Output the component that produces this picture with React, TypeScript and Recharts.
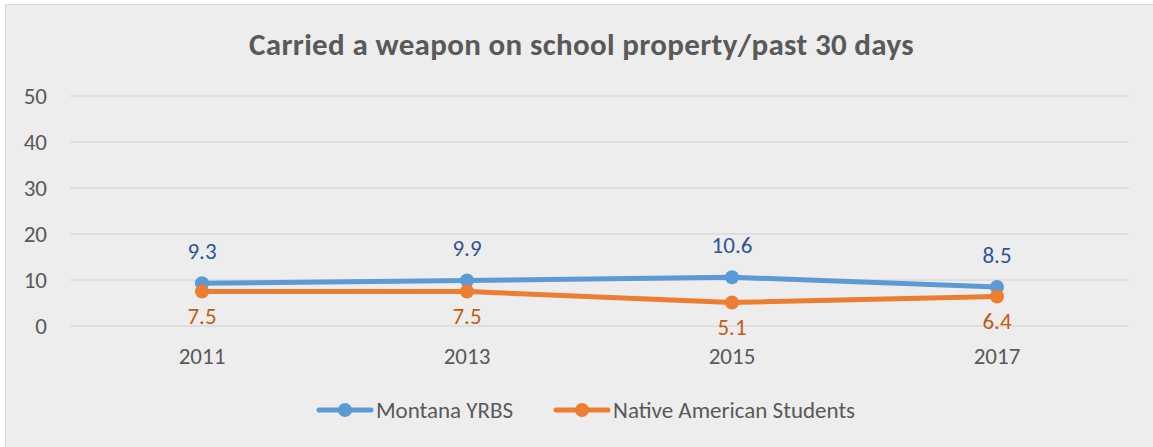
import React from 'react';
import { LineChart, Line, XAxis, YAxis, CartesianGrid, Legend, LabelList } from 'recharts';

const years = ['2011', '2013', '2015', '2017'];
const montanaYrbs = [9.3, 9.9, 10.6, 8.5];
const nativeAmerican = [7.5, 7.5, 5.1, 6.4];
const yTicks = [0, 10, 20, 30, 40, 50];

const FONT = 'Calibri, Carlito, Lato, sans-serif';
const BLUE = '#5b9bd5';
const ORANGE = '#ed7d31';

const data = years.map((y, i) => ({
  year: y,
  montana: montanaYrbs[i],
  native: nativeAmerican[i],
}));

const legendItems = [
  { name: 'Montana YRBS', color: BLUE },
  { name: 'Native American Students', color: ORANGE },
];

function LegendContent() {
  return (
    <div
      style={{
        display: 'flex',
        justifyContent: 'center',
        alignItems: 'center',
        height: 24,
        paddingLeft: 18,
        fontFamily: FONT,
        fontSize: 23,
        color: '#595959',
      }}
    >
      {legendItems.map((it, i) => (
        <div key={it.name} style={{ display: 'flex', alignItems: 'center', marginLeft: i ? 40 : 0 }}>
          <svg width={58} height={16} style={{ marginRight: 2 }}>
            <line x1={3} y1={8} x2={55} y2={8} stroke={it.color} strokeWidth={5} strokeLinecap="round" />
            <circle cx={29} cy={8} r={7} fill={it.color} />
          </svg>
          <span>{it.name}</span>
        </div>
      ))}
    </div>
  );
}

export default function App() {
  return (
    <div style={{ position: 'absolute', left: 0, top: 0, width: 1153, height: 447, background: '#fff', overflow: 'hidden' }}>
      <div
        style={{
          position: 'absolute',
          left: 5,
          top: 4,
          width: 1170,
          height: 460,
          background: '#ededed',
          border: '1.5px solid #d9d9d9',
        }}
      />
      <div
        style={{
          position: 'absolute',
          left: 0,
          top: 25,
          width: 1163,
          textAlign: 'center',
          fontFamily: FONT,
          fontWeight: 700,
          fontSize: 31,
          letterSpacing: 0.35,
          color: '#595959',
        }}
      >
        Carried a weapon on school property/past 30 days
      </div>
      <div style={{ position: 'absolute', left: 0, top: 0 }}>
        <LineChart width={1153} height={447} data={data} margin={{ top: 96, right: 24, bottom: 25, left: 0 }}>
          <CartesianGrid vertical={false} stroke="#d9d9d9" strokeWidth={1.5} />
          <XAxis
            dataKey="year"
            axisLine={false}
            tickLine={false}
            tickSize={0}
            tickMargin={22}
            height={72}
            padding={{ left: 132, right: 132 }}
            tick={{ fill: '#595959', fontSize: 23, fontFamily: FONT }}
          />
          <YAxis
            domain={[0, 50]}
            ticks={yTicks}
            axisLine={false}
            tickLine={false}
            tickSize={0}
            tickMargin={23}
            width={70}
            tick={{ fill: '#595959', fontSize: 23, fontFamily: FONT }}
          />
          <Legend
            verticalAlign="bottom"
            align="center"
            wrapperStyle={{ left: 0, width: 1153 }}
            content={<LegendContent />}
          />
          <Line
            dataKey="montana"
            name="Montana YRBS"
            stroke={BLUE}
            strokeWidth={5}
            dot={{ r: 7, fill: BLUE, stroke: BLUE, strokeWidth: 0 }}
            isAnimationActive={false}
          >
            <LabelList dataKey="montana" position="top" offset={24} fill="#2f5597" fontSize={23} fontFamily={FONT} />
          </Line>
          <Line
            dataKey="native"
            name="Native American Students"
            stroke={ORANGE}
            strokeWidth={5}
            dot={{ r: 7, fill: ORANGE, stroke: ORANGE, strokeWidth: 0 }}
            isAnimationActive={false}
          >
            <LabelList dataKey="native" position="bottom" offset={16} fill="#c55a11" fontSize={23} fontFamily={FONT} />
          </Line>
        </LineChart>
      </div>
    </div>
  );
}
